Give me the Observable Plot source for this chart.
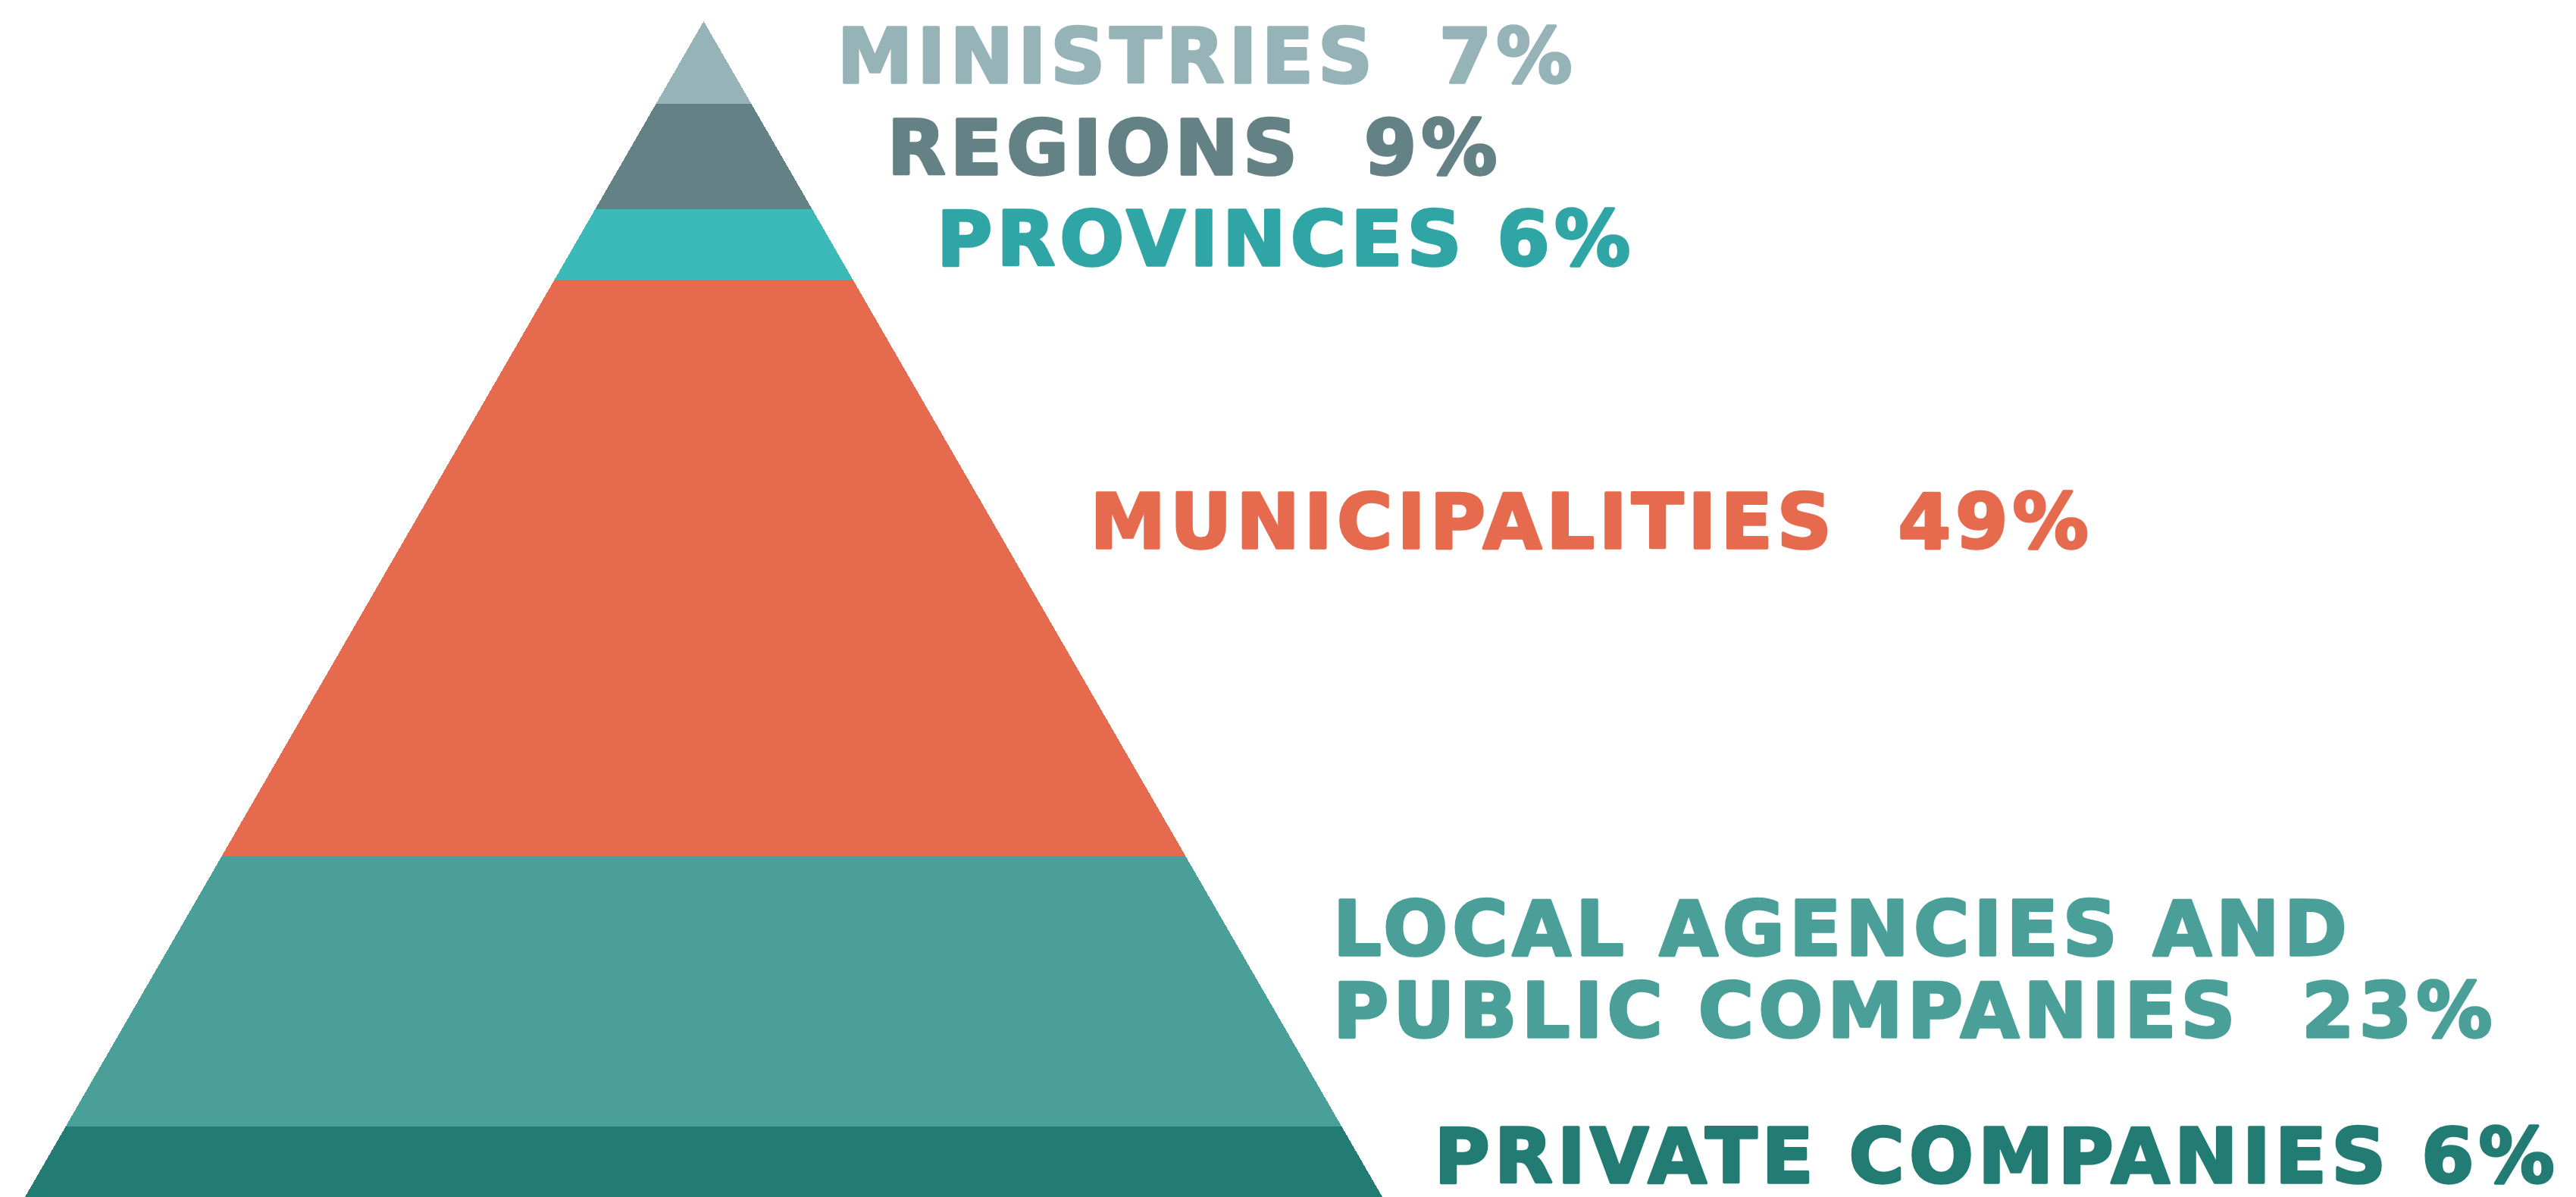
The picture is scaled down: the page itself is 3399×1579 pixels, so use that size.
<!DOCTYPE html>
<html><head><meta charset="utf-8">
<script src="https://cdn.jsdelivr.net/npm/d3@7"></script>
<script src="https://cdn.jsdelivr.net/npm/@observablehq/plot@0.6"></script>
<style>
html,body{margin:0;padding:0;background:#fff;overflow:hidden;}
#chart svg text{white-space:pre;letter-spacing:6px;}
</style></head><body><div id="chart"></div>
<script>
// Data
const categories = ["Ministries","Regions","Provinces","Municipalities","Local agencies and public companies","Private companies"];
const shares = [7, 9, 6, 49, 23, 6];
const labels = ["MINISTRIES  7%","REGIONS  9%","PROVINCES 6%","MUNICIPALITIES  49%","LOCAL AGENCIES AND\nPUBLIC COMPANIES  23%","PRIVATE COMPANIES 6%"];
const bandColors = ["#96b3b8","#648285","#3cb9b9","#e66b4e","#4aa098","#227c73"];
const textColors = ["#96b3b8","#648285","#30a5a5","#e66b4e","#4aa098","#227c73"];

const W = 3399, H = 1579;
const slope = Math.tan(Math.PI / 6); // equilateral pyramid: half-width per unit depth
const labelFrac = 0.42;              // labels sit a bit above each band's middle

let cum = 0;
const bands = [];
const labelRows = [];
shares.forEach((v, i) => {
  const top = cum, bottom = cum + v;
  cum = bottom;
  bands.push({name: categories[i], color: bandColors[i], depth: top, xl: -top * slope, xr: top * slope});
  bands.push({name: categories[i], color: bandColors[i], depth: bottom, xl: -bottom * slope, xr: bottom * slope});
  const at = top + v * labelFrac;
  labelRows.push({name: categories[i], label: labels[i], color: textColors[i], depth: at, x: 0.94 * at * slope});
});
const total = cum;
const half = total * slope;

const chart = Plot.plot({
  width: W,
  height: H,
  margin: 0,
  style: {background: "#fff", overflow: "visible"},
  x: {domain: [-half, half], range: [33, 1824], axis: null},
  y: {domain: [0, total], range: [28, H], axis: null},
  color: {type: "identity"},
  marks: [
    Plot.areaX(bands, {y: "depth", x1: "xl", x2: "xr", z: "name", fill: "color", shapeRendering: "crispEdges"}),
    Plot.text(labelRows, {
      x: "x", y: "depth", text: "label",
      fill: "color", stroke: "color", strokeWidth: 3.5, strokeLinejoin: "round",
      dx: 151, textAnchor: "start", lineAnchor: "middle", lineHeight: 1.08,
      fontSize: 100, fontWeight: "bold", fontFamily: "DejaVu Sans"
    })
  ]
});
document.getElementById("chart").appendChild(chart);
</script></body></html>
